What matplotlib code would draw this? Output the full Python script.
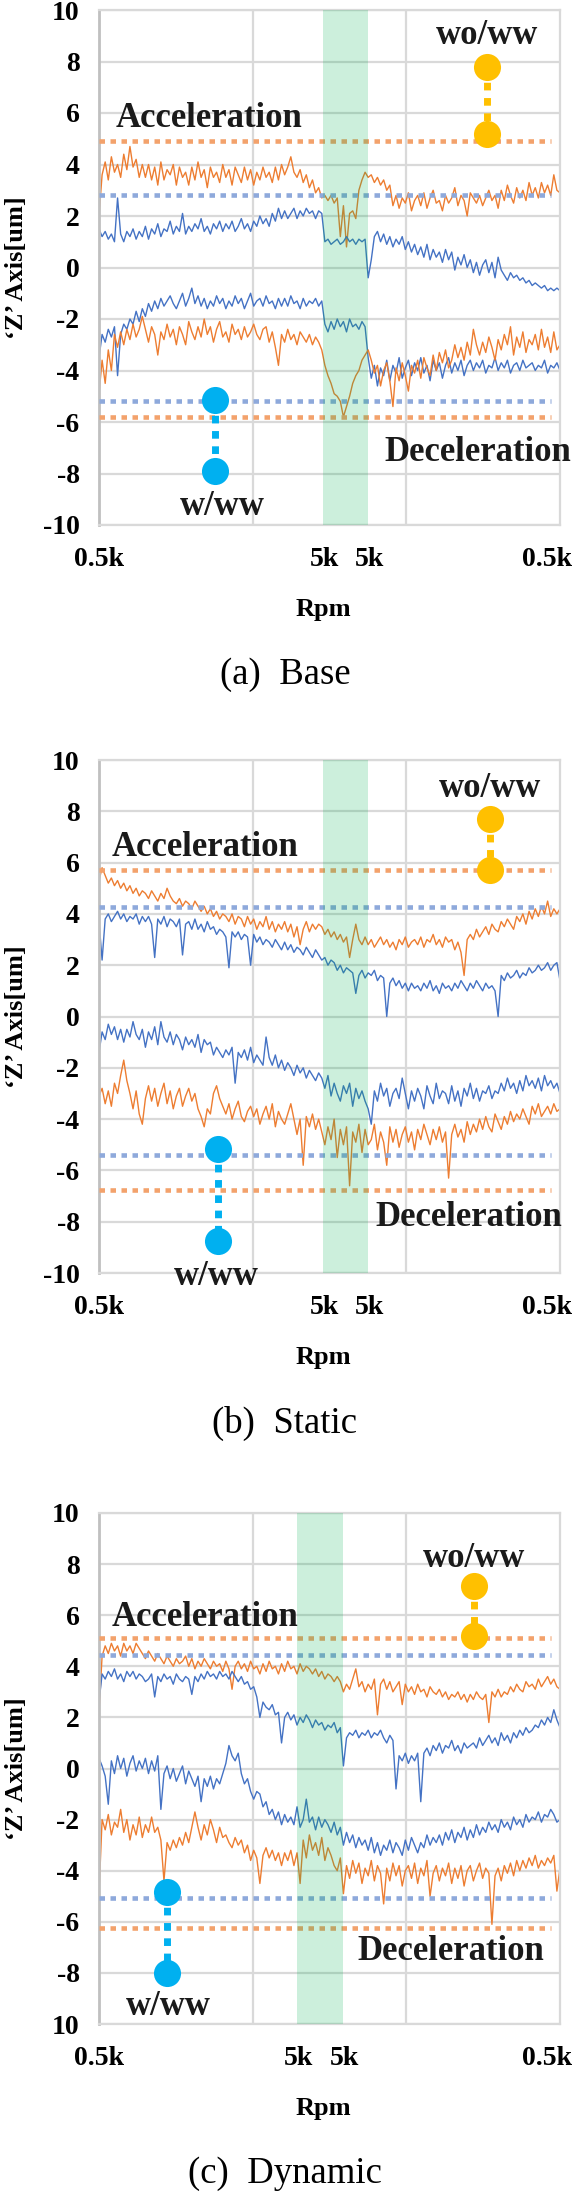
import numpy as np
import matplotlib
matplotlib.use('Agg')
import matplotlib.pyplot as plt

plt.rcParams['font.family'] = ['Liberation Serif', 'DejaVu Serif']
plt.rcParams['axes.unicode_minus'] = False

# ---- data (150 samples along the run) ----
# (a) Base
a_wo_acc = [2.0, 3.6, 4.1, 3.4, 4.3, 3.7, 4.0, 3.5, 4.4, 3.8,
            4.7, 3.9, 4.2, 3.5, 4.0, 3.5, 4.0, 3.4, 3.9, 3.2,
            4.1, 3.4, 3.8, 3.6, 4.0, 3.2, 3.9, 3.5, 3.7, 3.2,
            3.9, 3.4, 4.1, 3.5, 3.8, 3.1, 3.9, 3.5, 3.7, 3.3,
            4.0, 3.5, 3.8, 3.2, 3.9, 3.6, 3.3, 3.9, 3.4, 3.8,
            3.2, 3.7, 3.4, 3.9, 3.5, 3.7, 3.3, 3.9, 3.4, 4.0,
            3.6, 3.9, 4.3, 3.7, 3.5, 3.8, 3.3, 3.6, 3.1, 3.4,
            2.9, 3.1, 2.7, 2.8, 2.6, 2.8, 2.5, 2.7, 1.2, 2.4,
            0.8, 2.1, 2.2, 1.9, 3.0, 3.4, 3.7, 3.5, 3.6, 3.3,
            3.5, 3.2, 3.4, 3.0, 3.2, 2.4, 2.8, 2.3, 2.7, 2.5,
            2.9, 2.2, 2.6, 2.8, 2.4, 2.9, 2.3, 2.7, 3.0, 2.5,
            2.6, 2.2, 2.8, 2.5, 2.7, 3.1, 2.4, 2.8, 2.6, 2.0,
            2.9, 2.7, 2.5, 2.8, 2.4, 2.7, 3.0, 2.6, 2.8, 2.3,
            3.0, 2.6, 3.2, 2.8, 2.5, 3.1, 2.7, 3.0, 2.6, 3.3,
            2.8, 3.1, 2.7, 3.3, 2.9, 3.2, 2.8, 3.6, 3.0, 2.9]
a_w_acc = [1.5, 1.2, 1.4, 1.1, 1.3, 1.0, 2.7, 1.3, 1.0, 1.4,
           1.2, 1.5, 1.1, 1.4, 1.2, 1.6, 1.1, 1.5, 1.3, 1.7,
           1.2, 1.5, 1.4, 1.8, 1.3, 1.6, 1.4, 2.1, 1.3, 1.6,
           1.4, 1.7, 1.5, 1.9, 1.4, 1.6, 1.3, 1.7, 1.5, 1.8,
           1.4, 1.7, 1.5, 1.8, 1.4, 1.6, 1.9, 1.5, 1.7, 1.4,
           1.8, 1.6, 2.0, 1.7, 1.9, 1.6, 2.1, 1.8, 2.3, 1.9,
           2.2, 1.9, 2.1, 2.3, 1.9, 2.2, 2.0, 2.3, 2.1, 2.2,
           1.9, 2.2, 2.1, 1.0, 1.1, 0.9, 1.0, 1.1, 0.9, 1.0,
           1.2, 1.0, 1.1, 0.9, 1.1, 1.0, 1.1, -0.4, 0.3, 1.2,
           1.4, 1.0, 1.3, 0.9, 1.2, 0.8, 1.1, 0.9, 1.2, 0.7,
           1.0, 0.6, 0.9, 0.5, 0.8, 0.4, 0.9, 0.3, 0.7, 0.4,
           0.6, 0.2, 0.7, 0.3, 0.6, -0.1, 0.4, 0.1, 0.5, 0.0,
           0.3, -0.2, 0.2, -0.3, 0.1, 0.3, -0.2, 0.2, -0.4, 0.4,
           -0.1, -0.3, -0.5, -0.2, -0.4, -0.3, -0.5, -0.4, -0.6, -0.5,
           -0.7, -0.6, -0.7, -0.8, -0.7, -0.9, -0.8, -0.9, -0.8, -0.9]
a_w_dec = [-3.5, -2.6, -2.9, -2.4, -2.7, -2.3, -4.2, -2.6, -2.2, -2.4,
           -2.0, -2.2, -1.7, -2.1, -1.6, -1.9, -1.4, -1.7, -1.3, -1.6,
           -1.2, -1.5, -1.3, -1.1, -1.4, -1.6, -1.3, -1.0, -1.5, -1.2,
           -0.8, -1.4, -1.1, -1.5, -1.2, -1.6, -1.3, -1.5, -1.1, -1.4,
           -1.2, -1.6, -1.3, -1.5, -1.1, -1.4, -1.2, -1.6, -1.3, -1.0,
           -1.5, -1.3, -1.2, -1.5, -1.1, -1.4, -1.3, -1.6, -1.2, -1.5,
           -1.2, -1.5, -1.1, -1.4, -1.3, -1.6, -1.2, -1.5, -1.3, -1.4,
           -1.2, -1.5, -1.3, -2.2, -2.5, -2.1, -2.4, -2.0, -2.3, -2.1,
           -2.5, -2.0, -2.3, -2.2, -2.4, -2.1, -2.3, -3.5, -4.3, -3.8,
           -4.6, -3.9, -4.2, -3.6, -4.4, -3.8, -4.1, -3.5, -4.3, -3.9,
           -3.6, -4.2, -3.7, -4.0, -3.5, -4.1, -3.8, -4.4, -3.6, -4.0,
           -3.7, -4.3, -3.8, -3.5, -4.1, -3.7, -4.0, -3.6, -4.2, -3.8,
           -3.6, -4.0, -3.7, -3.9, -3.6, -4.1, -3.8, -3.9, -3.5, -4.0,
           -3.7, -3.9, -3.6, -4.1, -3.8, -3.7, -4.0, -3.6, -3.9, -3.8,
           -3.7, -4.0, -3.8, -3.9, -3.6, -4.1, -3.8, -3.9, -3.7, -4.0]
a_wo_dec = [-4.9, -3.6, -4.5, -3.2, -4.0, -2.6, -3.1, -2.5, -3.0, -2.4,
            -2.8, -2.2, -2.7, -2.4, -1.9, -2.4, -2.9, -2.3, -2.6, -3.4,
            -2.5, -2.8, -2.2, -2.7, -2.4, -3.0, -2.3, -2.6, -3.0, -2.1,
            -2.5, -2.8, -2.3, -2.7, -2.0, -2.6, -2.3, -2.9, -2.4, -2.1,
            -2.7, -2.5, -2.9, -2.2, -2.6, -2.4, -2.8, -2.3, -2.7, -2.5,
            -2.2, -2.6, -2.8, -2.4, -2.3, -2.9, -2.5, -3.1, -3.8, -2.6,
            -2.9, -2.4, -2.8, -2.6, -3.0, -2.5, -2.7, -2.9, -2.6, -3.0,
            -2.7, -2.9, -3.2, -3.8, -4.2, -4.5, -4.9, -5.0, -5.2, -5.8,
            -5.4, -5.0, -4.5, -4.2, -4.0, -3.6, -3.4, -3.2, -3.6, -4.1,
            -3.8, -4.6, -4.0, -3.7, -4.4, -5.4, -3.9, -4.4, -3.7, -4.2,
            -4.8, -3.8, -4.1, -3.6, -4.3, -3.5, -3.9, -4.2, -3.4, -4.0,
            -3.3, -3.7, -3.2, -3.9, -3.6, -3.0, -3.5, -3.1, -3.6, -2.9,
            -3.4, -2.4, -3.0, -3.4, -2.9, -3.3, -2.7, -3.1, -3.6, -2.8,
            -3.2, -2.6, -3.0, -2.3, -3.4, -2.7, -3.1, -2.5, -3.3, -2.8,
            -3.0, -2.6, -3.2, -2.4, -3.1, -2.7, -3.3, -2.5, -3.2, -3.0]

# (b) Static
b_wo_acc = [5.3, 5.8, 5.5, 5.2, 5.4, 5.1, 5.3, 5.0, 5.2, 4.9,
            5.1, 4.8, 5.0, 4.7, 4.9, 4.8, 4.6, 4.9, 4.7, 4.5,
            4.8, 4.6, 5.0, 4.7, 4.5, 4.4, 4.6, 4.3, 4.5, 4.4,
            4.2, 4.5, 4.3, 4.1, 4.3, 4.0, 4.2, 3.9, 4.1, 3.8,
            4.0, 3.9, 3.7, 4.0, 3.6, 3.9, 3.8, 3.5, 3.9, 3.6,
            3.8, 3.4, 3.7, 3.5, 3.9, 3.4, 3.7, 3.3, 3.6, 3.4,
            3.7, 3.3, 3.6, 3.1, 3.5, 2.8, 3.4, 3.7, 3.3, 3.6,
            3.4, 3.6, 3.5, 3.2, 3.4, 3.1, 3.3, 3.0, 3.2, 2.9,
            3.1, 2.3, 3.0, 3.6, 3.0, 2.8, 3.1, 2.8, 3.0, 2.7,
            2.9, 3.1, 2.8, 3.0, 2.7, 2.9, 2.6, 3.0, 2.8, 3.1,
            2.7, 2.9, 3.0, 2.8, 3.1, 2.7, 3.0, 2.9, 3.2, 2.8,
            3.0, 2.7, 3.1, 2.9, 3.0, 2.6, 2.9, 2.5, 1.6, 3.0,
            3.2, 3.0, 3.4, 3.1, 3.3, 3.5, 3.2, 3.6, 3.4, 3.3,
            3.7, 3.5, 3.8, 3.6, 3.4, 3.9, 3.7, 4.0, 3.6, 4.1,
            3.8, 4.2, 3.9, 4.3, 4.0, 4.5, 3.9, 4.2, 4.0, 4.2]
b_w_acc = [3.7, 2.2, 3.8, 4.0, 3.7, 3.9, 4.1, 3.8, 4.0, 3.7,
           3.9, 3.8, 4.0, 3.6, 3.9, 3.7, 3.9, 3.6, 2.3, 3.8,
           3.6, 3.9, 3.5, 3.8, 3.7, 3.5, 3.8, 2.4, 3.6, 3.7,
           3.4, 3.8, 3.4, 3.6, 3.3, 3.7, 3.4, 3.5, 3.2, 3.4,
           3.3, 3.1, 1.9, 3.3, 3.1, 3.3, 3.0, 3.2, 3.1, 2.0,
           3.2, 2.9, 3.1, 2.8, 3.0, 2.9, 2.7, 3.0, 2.8, 2.6,
           2.9, 2.6, 2.8, 2.5, 2.7, 2.6, 2.4, 2.7, 2.5, 2.3,
           2.6, 2.4, 2.2, 2.3, 2.0, 2.2, 2.1, 1.8, 2.0, 1.7,
           1.9, 1.8, 1.7, 0.9, 1.6, 1.8, 1.5, 1.7, 1.6, 1.8,
           1.4, 1.6, 1.5, 0.0, 1.3, 1.5, 1.2, 1.4, 1.1, 1.3,
           1.0, 1.3, 1.1, 1.2, 1.0, 1.3, 1.1, 1.4, 1.0, 1.2,
           0.9, 1.3, 1.1, 1.2, 1.0, 1.3, 1.1, 1.4, 1.2, 1.0,
           1.3, 1.1, 1.4, 1.2, 1.0, 1.3, 1.1, 1.2, 1.0, 0.0,
           1.6, 1.4, 1.7, 1.5, 1.6, 1.8, 1.5, 1.7, 1.6, 1.9,
           1.7, 1.8, 2.0, 1.8, 1.9, 2.1, 1.8, 2.0, 2.1, 1.4]
b_w_dec = [-1.4, -0.6, -0.9, -0.3, -0.7, -0.4, -0.9, -0.5, -1.0, -0.5,
           -0.8, -0.2, -0.7, -0.9, -0.5, -1.2, -0.6, -0.9, -0.4, -1.1,
           -0.2, -0.8, -1.0, -0.6, -1.1, -0.7, -0.9, -1.3, -0.8, -1.1,
           -0.9, -1.2, -0.7, -1.4, -0.9, -1.1, -1.0, -1.5, -1.2, -1.4,
           -1.6, -1.3, -1.5, -1.2, -2.6, -1.4, -1.6, -1.3, -1.7, -1.2,
           -1.8, -1.5, -1.7, -1.9, -0.8, -1.6, -1.9, -1.5, -2.0, -1.7,
           -2.1, -1.8, -2.0, -2.3, -1.9, -2.2, -2.0, -2.4, -2.1, -2.3,
           -2.5, -2.2, -2.4, -2.8, -2.3, -3.1, -2.6, -3.0, -3.3, -2.7,
           -3.0, -2.6, -3.5, -2.8, -3.2, -2.9, -3.3, -3.6, -4.2, -2.9,
           -3.3, -2.6, -3.1, -2.8, -3.5, -3.0, -2.8, -3.2, -2.4, -3.0,
           -3.6, -2.9, -3.3, -2.8, -3.1, -3.6, -2.7, -3.1, -3.4, -2.6,
           -3.2, -2.9, -3.0, -3.4, -2.7, -3.3, -2.9, -3.5, -2.8, -3.1,
           -2.6, -3.2, -2.8, -3.3, -2.9, -3.0, -2.7, -3.2, -2.9, -3.0,
           -2.6, -2.9, -2.4, -2.8, -2.6, -3.0, -2.5, -2.9, -2.3, -2.7,
           -2.5, -2.8, -2.4, -2.9, -2.3, -2.7, -2.5, -2.8, -2.6, -3.0]
b_wo_dec = [-3.1, -2.8, -3.4, -2.9, -3.5, -2.6, -3.0, -2.3, -1.7, -2.5,
            -3.0, -3.6, -2.9, -3.8, -4.2, -3.2, -2.7, -3.3, -2.8, -3.5,
            -3.0, -2.6, -3.4, -2.9, -3.6, -3.1, -2.8, -3.5, -3.1, -2.8,
            -3.3, -3.0, -3.6, -3.9, -4.3, -3.6, -3.8, -3.0, -2.7, -3.2,
            -3.5, -3.8, -3.4, -4.0, -3.6, -3.3, -3.9, -4.1, -3.7, -3.5,
            -3.9, -3.6, -4.2, -3.8, -3.5, -4.0, -3.4, -4.3, -3.7, -4.0,
            -4.2, -3.8, -3.4, -4.0, -4.6, -4.0, -5.8, -3.9, -4.3, -3.8,
            -4.4, -4.0, -4.5, -5.0, -4.3, -4.8, -4.0, -5.5, -4.4, -5.0,
            -4.3, -6.6, -4.5, -4.9, -4.2, -5.3, -4.4, -5.0, -4.8, -4.2,
            -5.2, -4.5, -4.9, -5.8, -4.3, -4.9, -4.4, -5.1, -4.6, -4.3,
            -4.9, -4.5, -5.2, -4.4, -4.8, -4.2, -4.6, -5.0, -4.4, -4.8,
            -4.3, -4.9, -4.5, -6.3, -4.6, -4.2, -4.7, -4.4, -4.9, -4.1,
            -4.6, -4.2, -4.5, -4.0, -4.4, -3.9, -4.3, -4.5, -3.8, -4.1,
            -4.4, -3.9, -4.2, -3.7, -4.1, -3.8, -4.0, -3.6, -3.9, -4.2,
            -3.5, -3.8, -3.4, -3.9, -3.7, -3.5, -3.8, -3.4, -3.7, -3.6]

# (c) Dynamic
c_wo_acc = [2.2, 4.4, 4.8, 4.5, 4.9, 4.6, 4.8, 4.4, 4.9, 4.6,
            4.8, 4.5, 4.9, 4.7, 4.5, 4.3, 4.6, 4.4, 4.2, 4.5,
            4.3, 4.1, 4.4, 4.2, 4.0, 4.3, 4.1, 4.2, 4.4, 4.0,
            4.3, 3.9, 4.2, 4.0, 4.3, 4.1, 3.9, 4.2, 4.0, 4.1,
            3.8, 4.2, 3.9, 3.1, 4.0, 4.2, 3.9, 4.1, 3.8, 4.2,
            3.9, 4.0, 3.7, 4.1, 3.8, 4.2, 3.9, 4.0, 3.7, 4.1,
            3.8, 4.2, 3.9, 4.0, 3.7, 4.1, 3.8, 4.0, 3.9, 3.7,
            3.9, 3.6, 3.8, 3.5, 3.7, 3.6, 3.4, 3.6, 3.4, 3.0,
            3.3, 3.1, 3.5, 3.9, 3.2, 3.4, 3.0, 3.3, 3.1, 3.5,
            2.1, 3.3, 3.5, 3.1, 3.4, 3.0, 3.2, 3.4, 2.5, 3.3,
            3.0, 3.2, 2.9, 3.3, 3.0, 3.1, 2.8, 3.2, 3.0, 2.9,
            3.1, 2.8, 3.0, 2.7, 2.9, 2.8, 3.0, 2.7, 2.9, 2.6,
            2.9, 2.7, 3.0, 2.8, 2.7, 2.9, 1.8, 3.0, 2.8, 3.1,
            2.8, 3.0, 2.9, 3.2, 3.0, 3.3, 3.1, 3.0, 3.4, 3.2,
            3.3, 3.1, 3.5, 3.2, 3.4, 3.6, 3.3, 3.5, 3.2, 3.1]
c_w_acc = [2.6, 3.7, 3.5, 3.8, 3.6, 3.9, 3.5, 3.7, 3.4, 3.8,
           3.6, 3.8, 3.5, 3.7, 3.6, 3.4, 3.5, 3.7, 2.8, 3.6,
           3.4, 3.7, 3.5, 3.6, 3.3, 3.7, 3.5, 3.4, 3.6, 3.5,
           2.9, 3.6, 3.4, 3.7, 3.5, 3.8, 3.6, 3.7, 3.5, 3.8,
           3.6, 3.7, 3.5, 3.8, 3.6, 3.4, 3.6, 3.3, 3.4, 3.1,
           3.2, 2.8, 2.0, 2.6, 2.4, 2.3, 2.5, 2.1, 2.2, 1.0,
           2.0, 2.2, 1.9, 2.1, 1.7, 2.0, 1.8, 2.1, 1.9, 1.6,
           1.9, 1.7, 1.8, 1.5, 1.7, 1.6, 1.8, 1.4, 1.6, 0.1,
           1.2, 1.4, 1.3, 1.5, 1.2, 1.4, 1.3, 1.5, 1.2, 1.4,
           1.3, 1.5, 1.2, 1.0, 1.3, 1.1, -0.8, 0.5, 0.3, 0.6,
           0.2, 0.5, 0.3, 0.6, -1.3, 0.6, 0.8, 0.5, 0.9, 0.7,
           1.0, 0.6, 0.9, 0.8, 1.1, 0.7, 0.9, 0.6, 1.0, 0.8,
           0.9, 1.0, 0.8, 1.2, 0.9, 1.1, 1.3, 1.0, 1.2, 0.9,
           1.4, 1.1, 1.3, 1.0, 1.4, 1.2, 1.5, 1.3, 1.6, 1.4,
           1.5, 1.7, 1.6, 1.9, 1.7, 2.0, 1.8, 2.3, 1.9, 1.6]
c_w_dec = [0.4, 0.1, -0.3, -1.4, 0.3, -0.2, 0.5, 0.0, 0.4, -0.3,
           0.2, 0.5, -0.1, 0.3, 0.0, 0.4, -0.2, 0.3, -0.1, 0.5,
           -1.6, -0.2, 0.1, -0.4, 0.0, -0.5, -0.2, 0.1, -0.6, -0.1,
           -0.4, -0.7, -0.3, -1.3, -0.4, -0.7, -0.3, -0.8, -0.4, -0.6,
           -0.2, 0.2, 0.9, 0.5, 0.3, 0.6, -0.2, -0.6, -0.4, -0.9,
           -1.2, -0.9, -1.0, -1.5, -1.3, -1.8, -1.6, -2.0, -1.7, -2.2,
           -1.8, -2.1, -1.9, -2.2, -1.5, -2.3, -2.0, -1.2, -2.1, -1.9,
           -2.4, -1.9, -2.3, -2.0, -2.2, -2.5, -2.1, -2.6, -2.3, -3.0,
           -2.5, -2.9, -2.6, -3.1, -2.7, -3.0, -2.8, -3.2, -2.7, -3.3,
           -2.9, -3.4, -3.0, -3.2, -2.8, -3.3, -2.9, -3.1, -3.4, -2.8,
           -3.2, -2.7, -3.0, -3.3, -2.9, -3.1, -2.6, -3.0, -2.7, -2.9,
           -2.6, -3.0, -2.5, -2.8, -2.4, -2.9, -2.5, -2.7, -2.3, -2.8,
           -2.4, -2.7, -2.2, -2.6, -2.3, -2.5, -2.1, -2.4, -2.2, -2.5,
           -2.0, -2.3, -2.1, -2.4, -1.9, -2.2, -2.0, -2.3, -1.8, -2.1,
           -1.9, -2.0, -1.7, -2.1, -1.8, -1.9, -1.6, -1.8, -2.1, -2.0]
c_wo_dec = [-4.9, -2.0, -2.4, -1.8, -2.6, -2.1, -2.3, -1.6, -2.5, -2.0,
            -2.8, -2.2, -2.6, -1.9, -2.7, -2.2, -2.5, -1.9, -2.5, -2.3,
            -2.8, -4.4, -2.9, -3.2, -2.8, -3.1, -2.7, -3.0, -2.5, -2.9,
            -2.3, -1.7, -2.3, -2.8, -2.2, -2.6, -2.0, -2.4, -2.9, -2.3,
            -2.7, -2.6, -2.9, -3.1, -2.7, -3.0, -2.8, -3.3, -3.0, -3.6,
            -3.2, -3.5, -4.5, -3.4, -3.1, -3.5, -3.2, -3.6, -3.3, -3.8,
            -3.3, -3.6, -3.2, -3.8, -3.3, -4.5, -2.8, -3.5, -2.6, -3.2,
            -2.9, -3.4, -2.7, -3.6, -3.1, -3.4, -3.8, -4.0, -3.5, -4.9,
            -3.8, -4.3, -3.6, -4.1, -3.7, -4.5, -3.9, -4.2, -3.6, -4.4,
            -3.8, -4.1, -5.3, -3.9, -4.4, -3.7, -4.2, -3.8, -4.6, -4.0,
            -3.8, -4.3, -3.7, -4.5, -3.9, -4.2, -3.6, -5.0, -4.1, -3.8,
            -4.4, -3.9, -4.2, -3.7, -4.5, -3.9, -4.3, -3.8, -4.6, -4.0,
            -3.8, -4.4, -4.0, -3.7, -4.3, -3.9, -4.1, -6.1, -4.2, -3.9,
            -4.4, -3.8, -4.1, -3.7, -4.2, -3.6, -4.0, -3.6, -3.9, -3.5,
            -3.8, -3.4, -3.9, -3.6, -3.8, -3.5, -3.7, -3.4, -4.8, -3.9]

# limit levels (wo/ww = orange, w/ww = blue), [acceleration, deceleration]
a_wo_limits = [4.9, -5.8]
a_w_limits = [2.8, -5.2]
b_wo_limits = [5.7, -6.75]
b_w_limits = [4.25, -5.4]
c_wo_limits = [5.1, -6.25]
c_w_limits = [4.45, -5.05]

# 5k hold segment, run position 0..99
a_hold = [48.2, 57.8]
b_hold = [48.2, 57.8]
c_hold = [42.5, 52.4]

# gap markers [x, top, bottom]
a_wo_gap = [83.3, 7.8, 5.2]
a_w_gap = [24.9, -5.15, -7.9]
b_wo_gap = [84.0, 7.7, 5.72]
b_w_gap = [25.5, -5.15, -8.75]
c_wo_gap = [80.5, 7.13, 5.2]
c_w_gap = [14.7, -4.82, -8.0]

y_ticks = [10, 8, 6, 4, 2, 0, -2, -4, -6, -8, -10]
y_tick_labels = ['10', '8', '6', '4', '2', '0', '-2', '-4', '-6', '-8', '-10']
y_tick_labels_c = ['10', '8', '6', '4', '2', '0', '-2', '-4', '-6', '-8', '10']
x_tick_labels = ['0.5k', '5k', '5k', '0.5k']
titles = ['(a)  Base', '(b)  Static', '(c)  Dynamic']

BLUE = '#4472C4'
ORANGE = '#ED7D31'
BLUE_LIM = '#8EA9DB'
ORANGE_LIM = '#F3A26C'
GREEN = '#00B050'
GOLD = '#FFC000'
CYAN = '#00B0F0'

RUN_END = 99
W, H = 574, 2192
fig = plt.figure(figsize=(W / 100, H / 100), dpi=100)

panels = [
    dict(series=[(a_wo_acc, ORANGE), (a_w_acc, BLUE), (a_w_dec, BLUE), (a_wo_dec, ORANGE)],
         wo_lim=a_wo_limits, w_lim=a_w_limits, hold=a_hold, wo_gap=a_wo_gap, w_gap=a_w_gap,
         ylab=y_tick_labels, top=10, bottom=525,
         acc=(3.6, 5.8), dec=(61.2, -7.2), wo_txt=(83.3, 9.0), w_txt=(26.4, -9.3)),
    dict(series=[(b_wo_acc, ORANGE), (b_w_acc, BLUE), (b_w_dec, BLUE), (b_wo_dec, ORANGE)],
         wo_lim=b_wo_limits, w_lim=b_w_limits, hold=b_hold, wo_gap=b_wo_gap, w_gap=b_w_gap,
         ylab=y_tick_labels, top=760, bottom=1273,
         acc=(2.8, 6.6), dec=(59.3, -7.85), wo_txt=(84.0, 8.9), w_txt=(25.3, -10.15)),
    dict(series=[(c_wo_acc, ORANGE), (c_w_acc, BLUE), (c_w_dec, BLUE), (c_wo_dec, ORANGE)],
         wo_lim=c_wo_limits, w_lim=c_w_limits, hold=c_hold, wo_gap=c_wo_gap, w_gap=c_w_gap,
         ylab=y_tick_labels_c, top=1513, bottom=2024,
         acc=(2.8, 5.9), dec=(55.6, -7.17), wo_txt=(80.5, 8.2), w_txt=(15.0, -9.3)),
]

ax_left, ax_right = 99, 560
for p, title in zip(panels, titles):
    bot = 1 - p['bottom'] / H
    hgt = (p['bottom'] - p['top']) / H
    ax = fig.add_axes([ax_left / W, bot, (ax_right - ax_left) / W, hgt])
    ax.set_xlim(0, RUN_END)
    ax.set_ylim(-10, 10)

    ax.set_yticks(y_ticks)
    ax.set_yticklabels(p['ylab'], fontsize=20, fontweight='bold')
    ax.set_xticks([RUN_END / 3, 2 * RUN_END / 3])
    ax.set_xticklabels([])
    ax.tick_params(length=0)
    ax.tick_params(axis='y', pad=14)
    ax.grid(True, color='#d9d9d9', lw=1.6, zorder=0)
    ax.set_axisbelow(True)
    for s in ax.spines.values():
        s.set_color('#d9d9d9')
        s.set_linewidth(1.6)
    ax.spines['left'].set_color('#c0c0c0')
    ax.spines['left'].set_linewidth(2)

    for vals, col in p['series']:
        xs = np.linspace(0, RUN_END, len(vals))
        ax.plot(xs, vals, color=col, lw=1.0, zorder=2)

    for lvl in p['wo_lim']:
        ax.plot([0, 97], [lvl, lvl], color=ORANGE_LIM, lw=3.3, ls=(0, (1.2, 1.2)),
                dash_capstyle='butt', zorder=3)
    for lvl in p['w_lim']:
        ax.plot([0, 97], [lvl, lvl], color=BLUE_LIM, lw=3.3, ls=(0, (1.2, 1.2)),
                dash_capstyle='butt', zorder=3)

    ax.axvspan(p['hold'][0], p['hold'][1], color=GREEN, alpha=0.2, lw=0, zorder=4)

    for gap, col in [(p['wo_gap'], GOLD), (p['w_gap'], CYAN)]:
        ax.plot([gap[0], gap[0]], gap[1:], color=col, lw=5, ls=(0, (1.1, 1.1)),
                dash_capstyle='butt', zorder=5)
        ax.plot([gap[0], gap[0]], gap[1:], 'o', ms=19.5, color=col, mec='none', zorder=6)

    tk = dict(fontsize=25, fontweight='bold', color='#1a1a1a', va='center', zorder=7)
    ax.text(p['acc'][0], p['acc'][1], 'Acceleration', ha='left', **tk)
    ax.text(p['dec'][0], p['dec'][1], 'Deceleration', ha='left', clip_on=False, **tk)
    ax.text(p['wo_txt'][0], p['wo_txt'][1], 'wo/ww', ha='center', **tk)
    ax.text(p['w_txt'][0], p['w_txt'][1], 'w/ww', ha='center', clip_on=False, **tk)

    # x tick labels sit on the run start, 5k hold edges and run end
    xpos = [0, p['hold'][0], p['hold'][1], RUN_END]
    xshift = [0, 1, 1, -9]
    for xv, lab, dx in zip(xpos, x_tick_labels, xshift):
        ax.annotate(lab, xy=(xv, 0), xycoords=('data', 'axes fraction'),
                    xytext=(dx, -25), textcoords='offset points',
                    ha='center', va='center', fontsize=20, fontweight='bold')
    ax.annotate('Rpm', xy=(0.486, 0), xycoords='axes fraction', xytext=(0, -61),
                textcoords='offset points', ha='center', va='center',
                fontsize=19, fontweight='bold')

    fig.text(17 / W, bot + hgt / 2, '\u2018Z\u2019 Axis[um]', rotation=90,
             ha='center', va='center', fontsize=19, fontweight='bold')
    fig.text(285 / W, bot - 150 / H, title, ha='center', va='center', fontsize=26.5)

fig.savefig('out.png', dpi=100)
